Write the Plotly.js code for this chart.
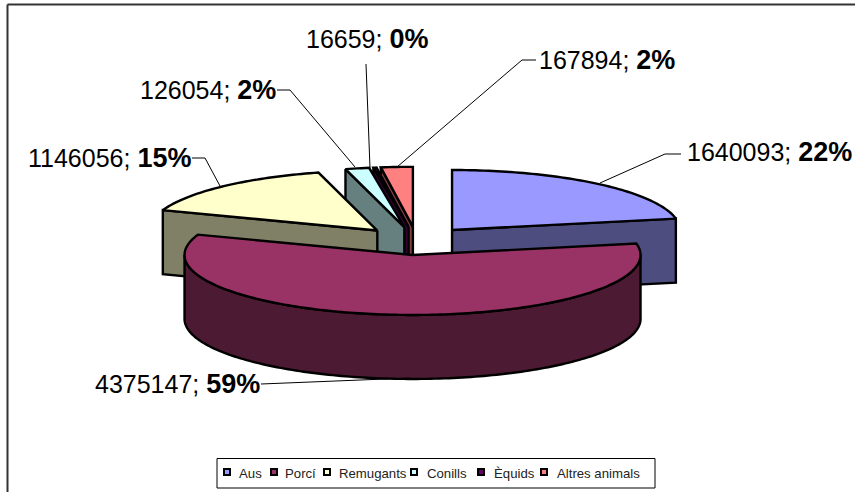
<!DOCTYPE html>
<html>
<head>
<meta charset="utf-8">
<script src="https://cdn.plot.ly/plotly-3.0.1.min.js"></script>
<style>html,body{margin:0;padding:0;background:#fff;overflow:hidden}#chart{width:855px;height:492px}</style>
</head>
<body>
<div id="chart"></div>
<script>
const categories = ["Aus", "Porcí", "Remugants", "Conills", "Èquids", "Altres animals"];
const values = [1640093, 4375147, 1146056, 126054, 16659, 167894];
const percents = ["22%", "59%", "15%", "2%", "0%", "2%"];
const topColors = ["#9999FF", "#993366", "#FFFFCC", "#CCFFFF", "#660066", "#FF8080"];
const wallColors = ["#4D4D80", "#4D1A33", "#808066", "#668080", "#330033", "#804040"];

// projection of the tilted, exploded pie
const CX = 416.8, CY = 240.9, RX = 228, RY = 60, DEPTH = 64, EX = 55.4, EY = 14.1;
const xNudge = [0, 0, -2, -1, 0, 0];
const total = values.reduce((a, b) => a + b, 0);
let acc = 0;
const slices = values.map((v, i) => {
  const a0 = acc / total * 2 * Math.PI;
  acc += v;
  const a1 = acc / total * 2 * Math.PI;
  const mid = (a0 + a1) / 2;
  return {i, a0, a1, ax: CX + EX * Math.sin(mid) + xNudge[i], ay: CY - EY * Math.cos(mid)};
});
const rim = (s, a, dz) => [s.ax + RX * Math.sin(a), s.ay - RY * Math.cos(a) + (dz || 0)];
const arc = (s, a0, a1, dz) => {
  const n = Math.max(2, Math.ceil(Math.abs(a1 - a0) / 0.02));
  const out = [];
  for (let k = 0; k <= n; k++) out.push(rim(s, a0 + (a1 - a0) * k / n, dz));
  return out;
};
const poly = (pts, color, name) => ({
  type: "scatter", mode: "lines", x: pts.map(p => p[0]), y: pts.map(p => p[1]),
  fill: "toself", fillcolor: color, line: {color: "#000", width: 2.4, simplify: false},
  hoverinfo: "skip", showlegend: false, name
});
const traces = [];
// back-to-front: small rear slices, then Remugants, Aus and Porcí in front
[5, 4, 3, 2, 0, 1].forEach(idx => {
  const s = slices[idx], wall = wallColors[idx], name = categories[idx];
  const cut = a => {
    const r = rim(s, a);
    return [[s.ax, s.ay], r, [r[0], r[1] + DEPTH], [s.ax, s.ay + DEPTH], [s.ax, s.ay]];
  };
  if (Math.sin(s.a0) < -1e-6) traces.push(poly(cut(s.a0), wall, name));
  if (Math.sin(s.a1) > 1e-6) traces.push(poly(cut(s.a1), wall, name));
  const f0 = Math.max(s.a0, Math.PI / 2), f1 = Math.min(s.a1, 3 * Math.PI / 2);
  if (f1 > f0) {
    const pts = arc(s, f0, f1, 0).concat(arc(s, f1, f0, DEPTH));
    pts.push(pts[0]);
    traces.push(poly(pts, wall, name));
  }
  const top = [[s.ax, s.ay]].concat(arc(s, s.a0, s.a1, 0));
  top.push([s.ax, s.ay]);
  traces.push(poly(top, topColors[idx], name));
});

const FONT = "Liberation Sans, Arial, sans-serif";
const labelAt = [[686, 152, "left"], [261, 384, "right"], [192, 158, "right"], [277, 90, "right"], [429, 39, "right"], [538, 60, "left"]];
const annotations = values.map((v, i) => ({
  x: labelAt[i][0], y: labelAt[i][1], xref: "x", yref: "y", showarrow: false,
  xanchor: labelAt[i][2], yanchor: "middle", align: labelAt[i][2],
  text: v + "; <b><span style=\"font-size:27px\">" + percents[i] + "</span></b>",
  font: {family: FONT, size: 25, color: "#000"}, borderpad: 0
}));
const leader = d => ({type: "path", path: d, xref: "x", yref: "y", line: {color: "#000", width: 1}, layer: "above"});
const shapes = [
  {type: "line", xref: "x", yref: "y", x0: 7.5, y0: 4.5, x1: 855, y1: 4.5, line: {color: "#333", width: 2}},
  {type: "line", xref: "x", yref: "y", x0: 7.5, y0: 4.5, x1: 7.5, y1: 492, line: {color: "#333", width: 2}},
  leader("M 600 183 L 665 154 L 681 154"),
  leader("M 397 167 L 522 60 L 536 60"),
  leader("M 370 168 L 366 64"),
  leader("M 355 167 L 290 90 L 277 90"),
  leader("M 220 186 L 205 158 L 192 158"),
  leader("M 261 384 L 410 378"),
  {type: "rect", xref: "x", yref: "y", x0: 217, y0: 458.5, x1: 655, y1: 488, line: {color: "#000", width: 1}, fillcolor: "#fff", layer: "above"}
];
// legend key
const keyX = [227, 274, 327, 414, 481, 544];
const keyTextX = [238, 284, 338, 426, 493, 556];
const keyY = 472;
categories.forEach((c, i) => {
  shapes.push({type: "rect", xref: "x", yref: "y", x0: keyX[i] - 3, x1: keyX[i] + 3, y0: keyY - 3, y1: keyY + 3,
    fillcolor: topColors[i], line: {color: "#000", width: 2}, layer: "above"});
  annotations.push({x: keyTextX[i], y: keyY + 1, xref: "x", yref: "y", showarrow: false, xanchor: "left", yanchor: "middle",
    text: c, font: {family: FONT, size: 13.2, color: "#222"}, borderpad: 0});
});
const layout = {
  width: 855, height: 492, margin: {l: 0, r: 0, t: 0, b: 0},
  paper_bgcolor: "#fff", plot_bgcolor: "#fff", showlegend: false,
  xaxis: {range: [0, 855], visible: false, fixedrange: true},
  yaxis: {range: [492, 0], visible: false, fixedrange: true},
  annotations, shapes
};
Plotly.newPlot("chart", traces, layout, {displayModeBar: false, staticPlot: true});
</script>
</body>
</html>
